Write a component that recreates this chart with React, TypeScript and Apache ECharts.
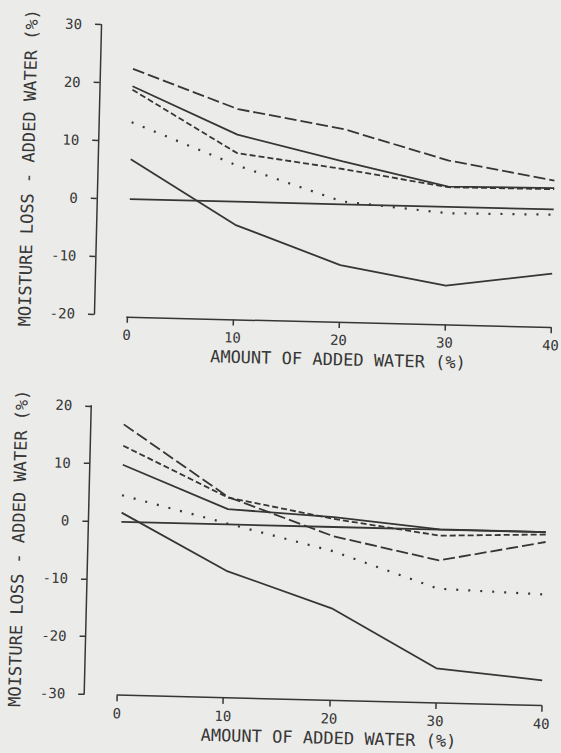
import React, { useEffect, useRef } from "react";
import * as echarts from "echarts";

// x positions (amount of added water, %)
const X_VALUES = [0, 10, 20, 30, 40];
const X_TICKS = [0, 10, 20, 30, 40];

// upper panel
const TOP_LONG_DASH = [22.5, 16.0, 13.0, 8.0, 5.0];
const TOP_SOLID_UPPER = [19.5, 11.6, 7.4, 3.5, 3.7];
const TOP_SHORT_DASH = [18.9, 8.4, 6.1, 3.4, 3.5];
const TOP_DOTTED = [13.3, 6.3, 0.5, -1.1, -0.9];
const TOP_ZERO = [0, 0, 0, 0, 0];
const TOP_SOLID_LOWER = [6.9, -4.0, -10.5, -13.6, -11.1];

// lower panel
const BOT_LONG_DASH = [16.9, 4.75, -1.6, -5.35, -1.7];
const BOT_SHORT_DASH = [13.2, 4.65, 1.4, -1.05, -0.4];
const BOT_SOLID_UPPER = [9.9, 2.65, 1.7, 0.05, 0.0];
const BOT_DOTTED = [4.6, 0.15, -4.2, -10.25, -10.8];
const BOT_ZERO = [0, 0, 0, 0, 0];
const BOT_SOLID_LOWER = [1.6, -8.05, -14.1, -24.05, -25.7];

const X_TITLE = "AMOUNT OF ADDED WATER (%)";
const Y_TITLE = "MOISTURE LOSS - ADDED WATER (%)";

const INK = "#363636";
const BG = "#ebebe9";
const FONT = "DejaVu Sans Mono";

const pairs = (ys: number[]) => X_VALUES.map((x, i) => [x, ys[i]]);

const LONG: any = [12, 4];
const SHORT: any = [6, 3];
const DOT: any = [2, 10];

function mkSeries(idx: number, ys: number[], type: any) {
  return {
    type: "line",
    xAxisIndex: idx,
    yAxisIndex: idx,
    data: pairs(ys),
    symbol: "none",
    silent: true,
    lineStyle: { color: INK, width: type === DOT ? 2.2 : 1.8, type },
  };
}

function mkX(gridIndex: number, nameGap: number, offset: number) {
  return {
    type: "value",
    gridIndex,
    position: "bottom",
    min: 0,
    max: 40,
    interval: 10,
    offset,
    name: X_TITLE,
    nameLocation: "middle",
    nameGap,
    nameTextStyle: { fontFamily: FONT, fontSize: 17, color: INK },
    axisLine: { show: true, onZero: false, lineStyle: { color: INK, width: 1.5 } },
    axisTick: { show: true, inside: false, length: 6, lineStyle: { color: INK, width: 1.5 } },
    axisLabel: {
      margin: 11,
      fontFamily: FONT,
      fontSize: 14,
      color: INK,
      formatter: (v: number) => (X_TICKS.includes(v) ? String(v) : ""),
    },
    splitLine: { show: false },
  };
}

function mkY(gridIndex: number, min: number, max: number) {
  return {
    type: "value",
    gridIndex,
    position: "left",
    min,
    max,
    interval: 10,
    offset: 33,
    name: Y_TITLE,
    nameLocation: "middle",
    nameGap: 61,
    nameTextStyle: { fontFamily: FONT, fontSize: 17, color: INK },
    axisLine: { show: true, onZero: false, lineStyle: { color: INK, width: 1.5 } },
    axisTick: { show: true, inside: false, length: 6, lineStyle: { color: INK, width: 1.5 } },
    axisLabel: { margin: 19, fontFamily: FONT, fontSize: 14, color: INK },
    splitLine: { show: false },
  };
}

export default function App() {
  const ref = useRef<HTMLDivElement>(null);

  useEffect(() => {
    if (!ref.current) return;
    const chart = echarts.init(ref.current, null, { renderer: "svg" });
    chart.setOption({
      animation: false,
      backgroundColor: "transparent",
      grid: [
        { left: 125.5, right: 11.3, top: 29.2, height: 289.4, containLabel: false },
        { left: 125, right: 11, top: 410.3, height: 288.4, containLabel: false },
      ],
      xAxis: [mkX(0, 29, 2), mkX(1, 29, 0.5)],
      yAxis: [mkY(0, -20, 30), mkY(1, -30, 20)],
      series: [
        mkSeries(0, TOP_LONG_DASH, LONG),
        mkSeries(0, TOP_SOLID_UPPER, "solid"),
        mkSeries(0, TOP_SHORT_DASH, SHORT),
        mkSeries(0, TOP_DOTTED, DOT),
        mkSeries(0, TOP_ZERO, "solid"),
        mkSeries(0, TOP_SOLID_LOWER, "solid"),
        mkSeries(1, BOT_LONG_DASH, LONG),
        mkSeries(1, BOT_SHORT_DASH, SHORT),
        mkSeries(1, BOT_SOLID_UPPER, "solid"),
        mkSeries(1, BOT_DOTTED, DOT),
        mkSeries(1, BOT_ZERO, "solid"),
        mkSeries(1, BOT_SOLID_LOWER, "solid"),
      ],
    });
    return () => chart.dispose();
  }, []);

  return (
    <div
      style={{
        position: "fixed",
        left: 0,
        top: 0,
        width: 561,
        height: 753,
        background: BG,
        overflow: "hidden",
      }}
    >
      <div
        style={{
          position: "absolute",
          left: 0,
          top: 0,
          width: 561,
          height: 753,
          transform: "rotate(1.4deg)",
          transformOrigin: "280.5px 376.5px",
        }}
      >
        <div ref={ref} style={{ width: 561, height: 753 }} />
      </div>
    </div>
  );
}
